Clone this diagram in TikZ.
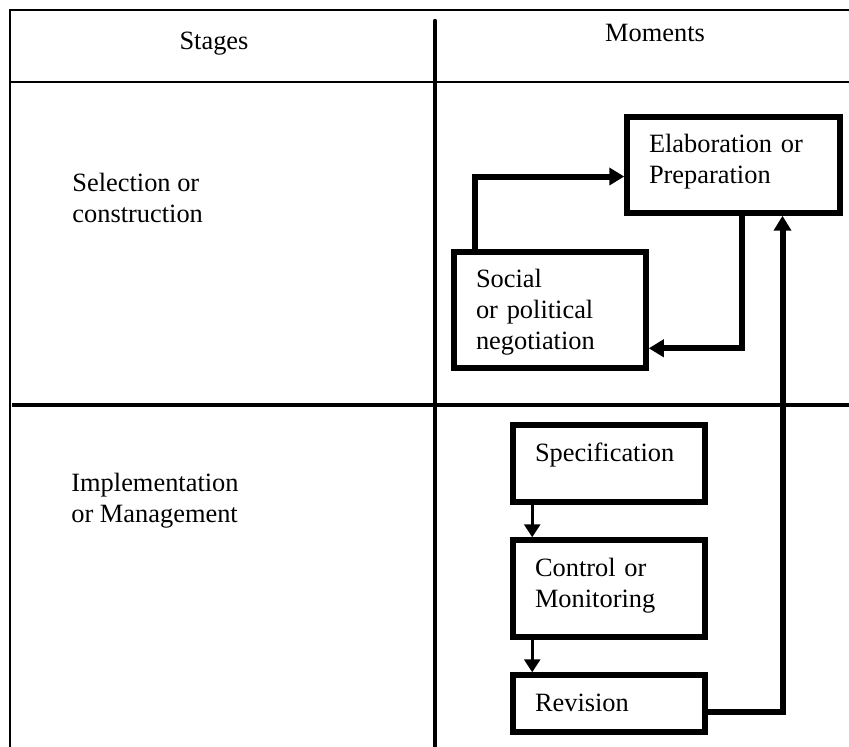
\documentclass[tikz,border=0pt]{standalone}
\usepackage{fontspec}
\setmainfont{Liberation Serif}
\usetikzlibrary{arrows.meta,calc}

\tikzset{
  stepbox/.style={draw,line width=2.75pt,align=left,anchor=north west,outer sep=0pt,
    inner xsep=11pt,inner ysep=0pt,text width=74pt,text height=18pt},
  cell/.style={inner sep=0pt},
  flow/.style={->,line width=3pt,shorten >=1.375pt},
  thinflow/.style={->,line width=1.5pt,shorten >=1.375pt,>={Triangle[length=6.5pt,width=8pt]}},
}

\begin{document}
\begin{tikzpicture}[x=0.5pt,y=-0.5pt,
    every path/.style={>={Triangle[length=7.5pt,width=8.5pt]}},
    every node/.style={font=\fontsize{13.2pt}{15.5pt}\selectfont}]
  \useasboundingbox (0,0) rectangle (849,747);
  % table frame
  \draw[line width=1pt] (849,10) -- (10,10) -- (10,747);
  \draw[line width=1pt] (10,82) -- (849,82);
  \draw[line width=2.2pt,line cap=round] (435,21) -- (435,747);
  \draw[line width=2.4pt] (12,405) -- (849,405);

  % headings and stages
  \node[cell,anchor=base] (stages) at (214,50) {Stages};
  \node[cell,anchor=base] (moments) at (655,42) {Moments};
  \node[cell,anchor=base west,align=left] (selection) at (72,223) {Selection or\\construction};
  \node[cell,anchor=base west,align=left] (implementation) at (71,522) {Implementation\\or Management};

  % moments
  \node[stepbox,text width=84.5pt,text depth=30pt] (elab) at (627,117) {Elaboration or\\Preparation};
  \node[stepbox,text depth=40pt] (social) at (454,252) {Social\\or political\\negotiation};
  \node[stepbox,text depth=20.5pt] (spec) at (513,425) {Specification};
  \node[stepbox,text depth=30.5pt] (ctrl) at (513,540) {Control or\\Monitoring};
  \node[stepbox,text depth=10.5pt] (rev) at (513,675) {Revision};

  \draw[flow] ($(social.north west)!0.11!(social.north east)$) |- ($(elab.north west)!0.62!(elab.south west)$);
  \draw[flow] ($(elab.south west)!0.54!(elab.south east)$) |- ($(social.north east)!0.83!(social.south east)$);
  \draw[flow] ($(rev.north east)!0.65!(rev.south east)$) -| ($(elab.south west)!0.73!(elab.south east)$);
  \draw[thinflow] ($(spec.south west)!0.1!(spec.south east)$) -- ($(ctrl.north west)!0.1!(ctrl.north east)$);
  \draw[thinflow] ($(ctrl.south west)!0.1!(ctrl.south east)$) -- ($(rev.north west)!0.1!(rev.north east)$);
\end{tikzpicture}
\end{document}
